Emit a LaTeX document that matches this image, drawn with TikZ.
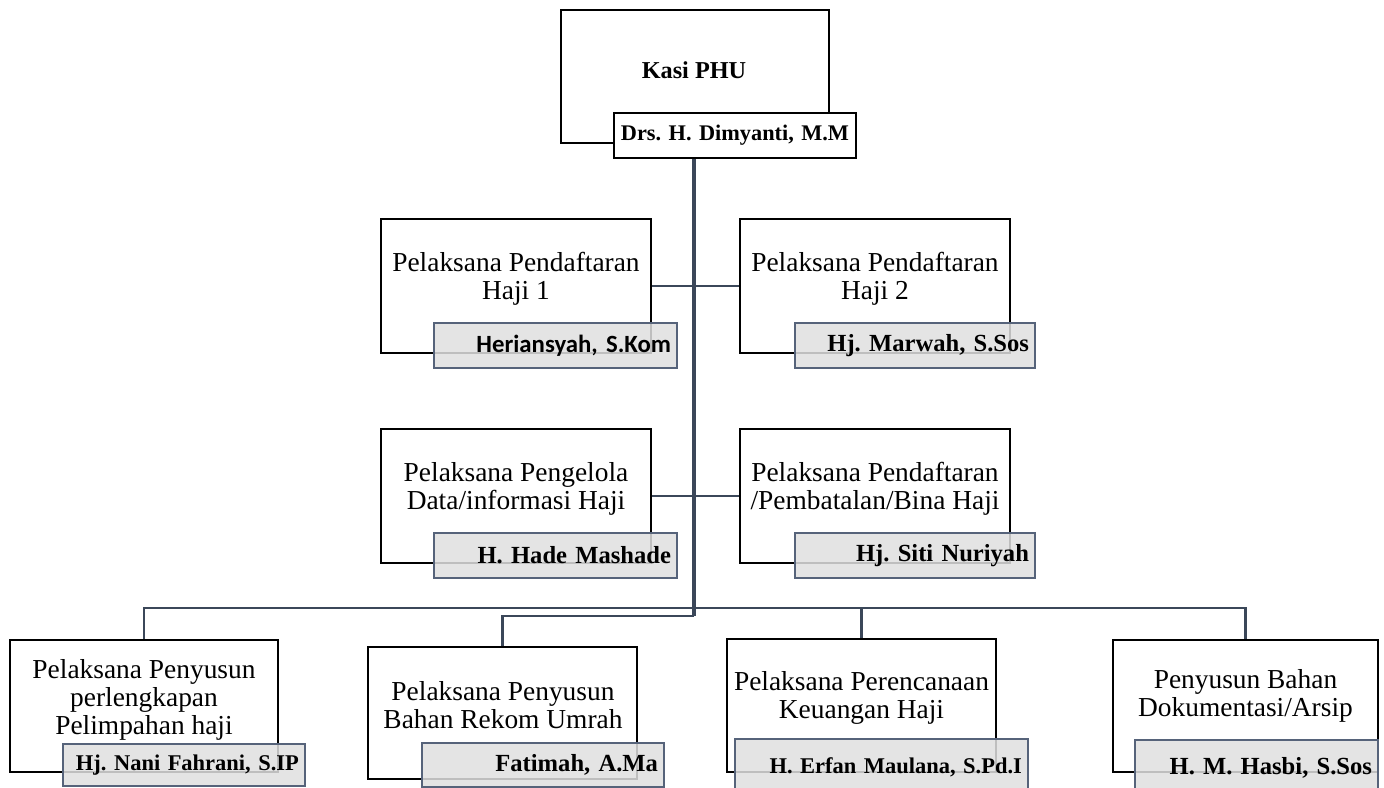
\documentclass[tikz,border=0pt]{standalone}
\usepackage{fontspec}
\setmainfont{Liberation Serif}
\newfontfamily\calibri{Carlito}
\usepackage{tikz}
\frenchspacing
\definecolor{linkcol}{HTML}{3B4759}
\definecolor{namecol}{HTML}{56637A}
\tikzstyle{post}=[draw, line width=1.4pt, minimum width=5.4cm, minimum height=2.68cm, inner sep=0pt]
\tikzstyle{posttitle}=[align=center, inner sep=0pt, font=\fontsize{15.6}{16}\selectfont]
\tikzstyle{person}=[draw=namecol, line width=1.3pt, fill=black!12, fill opacity=0.85, text opacity=1, minimum height=0.9cm, inner xsep=0.12cm, align=right, font=\bfseries\fontsize{14}{16}\selectfont]
\tikzstyle{link}=[draw=linkcol, line width=1.3pt]

\begin{document}
\begin{tikzpicture}[x=0.02cm, y=-0.02cm]
            \fill [white] (0,0) rectangle (1384,788);
            \useasboundingbox (0,0) rectangle (1384,788);
            \clip (0,0) rectangle (1384,788);
            \coordinate (hub) at (694,608);
            \coordinate (hub2) at (694,616);
            % head
            \node [post, minimum width=5.36cm, minimum height=2.66cm] (kasi) at (695,76.5) {};
            \node [posttitle, font=\bfseries\fontsize{13.8}{16}\selectfont] (kasit) at (694,70) {Kasi PHU};
            \node [person, draw=black, fill=white, fill opacity=1, text width=4.6cm, align=center, font=\bfseries\fontsize{12.7}{15}\selectfont] (kasin) at (735,135.5) {Drs. H. Dimyanti, M.M};
            % first row
            \node [post] (pd1) at (516,286) {};
            \node [posttitle] (pd1t) at (516,279) {Pelaksana Pendaftaran\\Haji 1};
            \node [person, text width=4.62cm, font=\calibri\bfseries\fontsize{14.1}{16}\selectfont] (pd1n) at (555.5,345.5) {Heriansyah, S.Kom};
            \node [post, right of=pd1, node distance=7.18cm] (pd2) {};
            \node [posttitle] (pd2t) at (875,279) {Pelaksana Pendaftaran\\Haji 2};
            \node [person, text width=4.56cm] (pd2n) at (915,345.5) {Hj. Marwah, S.Sos};
            % second row
            \node [post] (pdata) at (516,496) {};
            \node [posttitle] (pdatat) at (516,489) {Pelaksana Pengelola\\Data/informasi Haji};
            \node [person, text width=4.62cm] (pdatan) at (555.5,555.5) {H. Hade Mashade};
            \node [post, right of=pdata, node distance=7.18cm] (pbatal) {};
            \node [posttitle] (pbatalt) at (875,489) {Pelaksana Pendaftaran\\/Pembatalan/Bina Haji};
            \node [person, text width=4.56cm] (pbataln) at (915,555.5) {Hj. Siti Nuriyah};
            % bottom row
            \node [post, minimum width=5.36cm, minimum height=2.64cm] (b1) at (144,706) {};
            \node [posttitle] (b1t) at (144,700) {Pelaksana Penyusun\\perlengkapan\\Pelimpahan haji};
            \node [person, text width=4.6cm, minimum height=0.84cm, font=\bfseries\fontsize{12.8}{15}\selectfont] (b1n) at (184,765) {Hj. Nani Fahrani, S.IP};
            \node [post, minimum width=5.38cm, minimum height=2.64cm] (b2) at (502.5,713) {};
            \node [posttitle] (b2t) at (503,705) {Pelaksana Penyusun\\Bahan Rekom Umrah};
            \node [person, text width=4.6cm, minimum height=0.88cm] (b2n) at (543,765) {Fatimah, A.Ma};
            \node [post, minimum width=5.38cm, minimum height=2.66cm] (b3) at (861.5,705.5) {};
            \node [posttitle] (b3t) at (861.5,697.5) {Pelaksana Perencanaan\\Keuangan Haji};
            \node [person, text width=5.62cm, minimum height=1.12cm, font=\bfseries\fontsize{12.8}{15}\selectfont] (b3n) at (881.5,767) {H. Erfan Maulana, S.Pd.I};
            \node [post, minimum width=5.3cm, minimum height=2.64cm] (b4) at (1245.5,706) {};
            \node [posttitle] (b4t) at (1245.5,696) {Penyusun Bahan\\Dokumentasi/Arsip};
            \node [person, text width=4.62cm, minimum height=1.1cm] (b4n) at (1256.5,767.5) {H. M. Hasbi, S.Sos};
            % lines
            \draw [link, line width=1.8pt] (kasin.south -| hub) -- (hub2);
            \path [link, line width=1.7pt] (pd1) edge (pd2);
            \path [link, line width=1.7pt] (pdata) edge (pbatal);
            \draw [link, line width=1.6pt] (b1.north) |- (hub) -| (b4.north);
            \draw [link] (b3.north) -- (b3.north |- hub);
            \draw [link] (hub2) -| (b2.north);
        \end{tikzpicture}
\end{document}
